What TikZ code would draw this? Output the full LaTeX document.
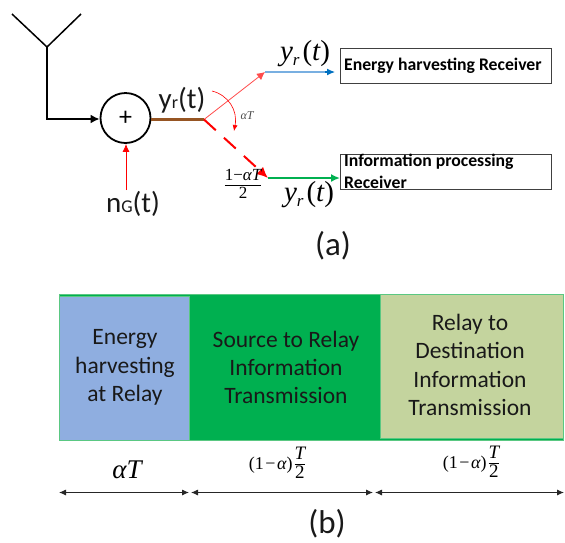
\documentclass[tikz,border=0pt]{standalone}
\usepackage{fontspec}
\setmainfont{Carlito}
\newfontfamily\mth{Liberation Serif}
\usetikzlibrary{arrows.meta}
\definecolor{brownl}{RGB}{150,85,35}
\definecolor{bluel}{RGB}{120,175,225}
\definecolor{bluea}{RGB}{0,112,192}
\definecolor{greenl}{RGB}{0,176,80}
\definecolor{edgeg}{RGB}{90,200,130}
\definecolor{bluef}{RGB}{143,174,224}
\definecolor{olivef}{RGB}{196,212,158}
\definecolor{txt}{RGB}{25,25,25}
\newcommand{\mi}[1]{{\mth\itshape #1}}
\newcommand{\mr}[1]{{\mth #1}}
\newcommand{\fs}[1]{\fontsize{#1}{#1}\selectfont}
\newcommand{\yrt}{\fs{29}\mi{y}\raisebox{-5pt}{\fs{17}\mi{r}}\hspace{3pt}\mr{(}\mi{t}\mr{)}}
\newcommand{\stackfrac}[2]{\begin{tabular}{@{}c@{}}#1\\[-1pt]\hline\noalign{\vskip 1pt}#2\end{tabular}}
\newcommand{\durfrac}{\fs{18}\mr{(1\hspace{1.5pt}−\hspace{1.5pt}}\mi{α}\mr{)}\hspace{2pt}\fs{19}\stackfrac{\mi{T}}{\mr{2}}}
\tikzset{
  recv/.style={draw=black!75,line width=1pt,fill=white,minimum width=211pt,minimum height=35pt,anchor=north west,inner sep=0pt},
  lab/.style={font=\fontsize{33}{33}\selectfont,text=txt,inner sep=0pt},
  sig/.style={font=\fontsize{29}{29}\selectfont,text=txt,inner sep=0pt},
  blk/.style={font=\fontsize{23.5}{28.3}\selectfont,text=txt,align=center,inner sep=0pt},
  bt/.style={font=\bfseries\fontsize{17.7}{22}\selectfont,text=black,inner sep=0pt,anchor=west},
  meas/.style={{Latex[length=7pt,width=6pt]}-{Latex[length=7pt,width=6pt]},line width=.9pt,black!85},
  blocks/.style={minimum height=144pt,anchor=north west,inner sep=0pt},
  mlab/.style={inner sep=0pt}
}
\begin{document}
\begin{tikzpicture}[x=1pt,y=-1pt]
\useasboundingbox (0,0) rectangle (565,542);
% antenna
\coordinate (tl) at (12,14);
\coordinate (tr) at (81,14);
\coordinate (tm) at (47,47);
\coordinate (corner) at (47,119);
\draw[line width=1.5pt] (tl) -- (tm) -- (tr);
\node[circle,draw,line width=1.8pt,minimum size=50pt,inner sep=0pt,font=\fontsize{26}{26}\selectfont] (sum) at (125.5,118) {+};
\draw[line width=2.1pt,-{Latex[length=9pt,width=9pt]}] (tm) -- (corner) -- (sum.west |- corner);
\coordinate (split) at (204,119.5);
\draw[brownl,line width=3.2pt] (sum.east |- split) -- (split);
\node[sig,anchor=base] (yr) at (182,108) {y\fontsize{18}{18}\selectfont r\fontsize{29}{29}\selectfont(t)};
\node[sig,anchor=base] (ng) at (133,212) {n\fontsize{18}{18}\selectfont G\fontsize{29}{29}\selectfont(t)};
\coordinate (ngtop) at (126,190);
\draw[red,line width=.9pt,-{Latex[length=8pt,width=7pt]}] (ngtop) -- (sum.south -| ngtop);
% receivers
\node[recv] (eh) at (340,48) {};
\node[recv] (ip) at (340,154) {};
\node[bt] (ehl) at (344,66) {Energy harvesting Receiver};
\node[bt] (ipl) at (344,161.5) {Information processing};
\node[bt] (ipl2) at (344,182.5) {Receiver};
\coordinate (up) at (265,72);
\coordinate (dn) at (268,178);
\coordinate (blueend) at (335,72);
\coordinate (bluemid) at (325,72);
\draw[red!70,line width=.8pt,-{Latex[length=8pt,width=8pt]}] (split) -- (up);
\draw[red,line width=2pt,dash pattern=on 16pt off 11pt,-{Latex[length=11pt,width=10pt]}] (split) -- (dn);
\draw[bluel,line width=1.4pt] (up) -- (bluemid);
\draw[bluea,line width=1.2pt,-{Latex[length=8pt,width=7pt]}] (bluemid) -- (blueend);
\draw[greenl,line width=1.7pt,-{Latex[length=9pt,width=8pt]}] (dn) -- (ip.west |- dn);
\coordinate (ca) at (212,91);
\coordinate (cb) at (234,131);
\draw[red,line width=.6pt,-{Latex[length=6pt,width=5pt]}] (ca) .. controls (228,95) and (238,110) .. (cb);
% math labels
\node[mlab,anchor=base] (y1) at (305,60) {\yrt};
\node[mlab,anchor=base] (y2) at (309,201) {\yrt};
\node[mlab,text=black!70] (at) at (247,115.5) {\fs{12}\mi{αT}};
\node[mlab] (fr) at (243,186) {\fs{17}\stackfrac{\mr{1−}\mi{αT}}{\mr{2}}};
\node[lab,anchor=base] (a) at (333,255) {(a)};
% timeline blocks
\node[blocks,fill=greenl,draw=edgeg,line width=.8pt,minimum width=504pt,minimum height=146pt] (bg) at (59,293.5) {};
\node[blocks,fill=bluef,draw=edgeg,line width=.8pt,minimum width=130pt] (b1) at (59,296) {};
\node[blocks,fill=olivef,draw=edgeg,line width=.8pt,minimum width=183pt] (b3) at (380,293.5) {};
\node[blk] (t1) at (125,367.5) {Energy\\harvesting\\at Relay};
\node[blk] (t2) at (286,367.5) {Source to Relay\\Information\\Transmission};
\node[blk] (t3) at (470,365) {Relay to\\Destination\\Information\\Transmission};
% durations
\coordinate (m0) at (59,492.5);
\coordinate (m1) at (189,492.5);
\coordinate (m2) at (191,492.5);
\coordinate (m3) at (373,492.5);
\coordinate (m4) at (375,492.5);
\coordinate (m5) at (564,492.5);
\draw[meas] (m0) -- (m1);
\draw[meas] (m2) -- (m3);
\draw[meas] (m4) -- (m5);
\node[mlab] (d1) at (127,470) {\fs{27}\mi{αT}};
\node[mlab] (d2) at (277,465) {\durfrac};
\node[mlab] (d3) at (471,464) {\durfrac};
\node[lab,anchor=base] (b) at (327,533.5) {(b)};
\end{tikzpicture}
\end{document}
